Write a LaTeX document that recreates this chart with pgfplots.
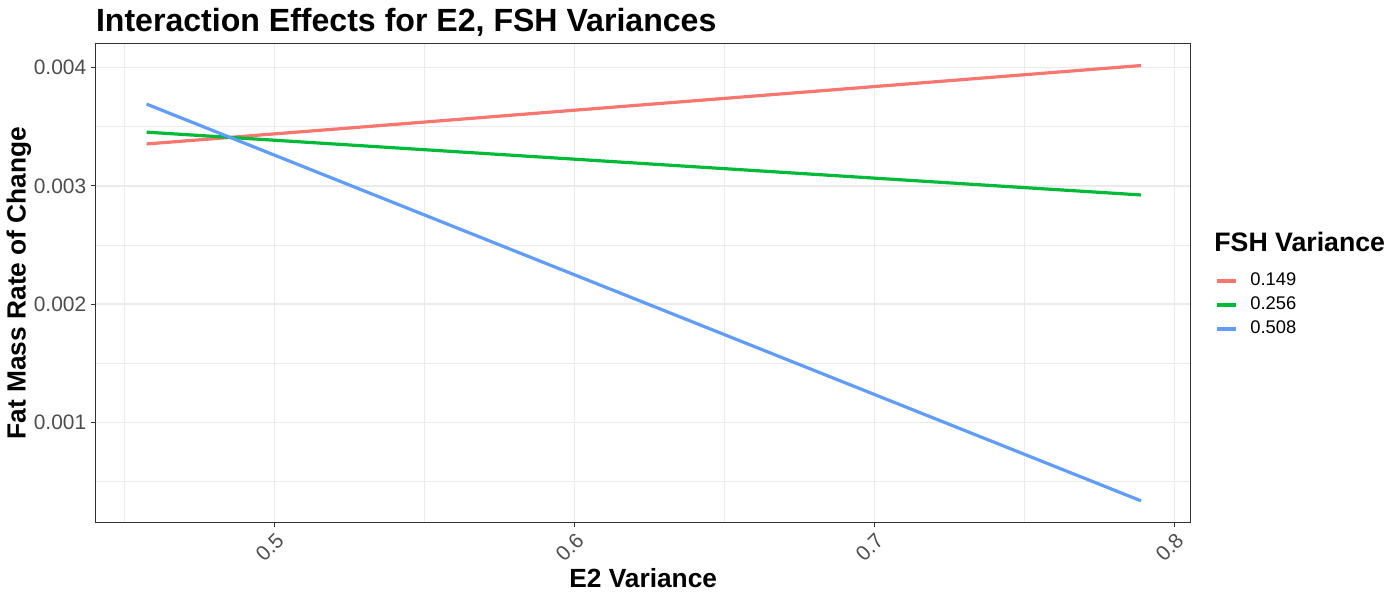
\documentclass[border=0pt]{standalone}
\usepackage{pgfplots}
\pgfplotsset{compat=1.18}
\usepackage{fontspec}
\setmainfont{Liberation Sans}
\definecolor{cred}{HTML}{F8766D}
\definecolor{cgreen}{HTML}{00BA38}
\definecolor{cblue}{HTML}{619CFF}
\definecolor{g20}{HTML}{333333}
\definecolor{g30}{HTML}{4D4D4D}
\definecolor{g92}{HTML}{EBEBEB}
\begin{document}
\begin{tikzpicture}
\path[use as bounding box] (0,0) rectangle (700bp,300bp);
\begin{axis}[
  name=ax,
  at={(47.8bp,39bp)}, anchor=south west,
  scale only axis, width=547.6bp, height=239bp,
  xmin=0.4403, xmax=0.8054, ymin=0.00016, ymax=0.0042,
  xtick={0.5,0.6,0.7,0.8}, xticklabels={0.5,0.6,0.7,0.8},
  ytick={0.001,0.002,0.003,0.004}, yticklabels={0.001,0.002,0.003,0.004},
  minor xtick={0.45,0.55,0.65,0.75},
  minor ytick={0.0005,0.0015,0.0025,0.0035},
  scaled y ticks=false, scaled x ticks=false,
  grid=both,
  major grid style={g92, line width=0.8bp},
  minor grid style={g92, line width=0.4bp},
  minor tick length=0pt,
  major tick length=2.5bp,
  tick align=outside,
  xtick pos=bottom, ytick pos=left,
  tick style={g20, line width=0.5bp},
  axis line style={g20, line width=0.5bp},
  tick label style={font=\fontsize{10.5}{12}\selectfont, text=g30},
  x tick label style={rotate=45, anchor=north east, inner sep=1.5bp},
  y tick label style={inner sep=2bp},
  xlabel={\textbf{E2 Variance}},
  label style={font=\fontsize{13.2}{15}\selectfont},
  xlabel style={at={(rel axis cs:0.5,0)}, anchor=center, yshift=-28bp},
  legend style={at={(rel axis cs:1.0219,0.454)}, anchor=west, draw=none, fill=none,
    font=\fontsize{9.2}{11}\selectfont, row sep=1.1bp, column sep=5bp, inner sep=0pt,
    nodes={inner sep=1.5bp}},
  legend cell align=left,
  legend image code/.code={\draw[#1] (0bp,0bp) -- (9.5bp,0bp);},
]
\addplot[cred, line width=1.6bp] coordinates {(0.4573,0.003355) (0.7888,0.004018)};
\addlegendentry{0.149}
\addplot[cgreen, line width=1.6bp] coordinates {(0.4573,0.003455) (0.7888,0.002924)};
\addlegendentry{0.256}
\addplot[cblue, line width=1.6bp] coordinates {(0.4573,0.003692) (0.7888,0.000339)};
\addlegendentry{0.508}
\end{axis}
\node[rotate=90, anchor=center, inner sep=0pt, font=\fontsize{13.2}{15}\selectfont\bfseries]
  at (9.5bp,158.5bp) {Fat Mass Rate of Change};
\node[anchor=base west, inner sep=0pt, font=\fontsize{16.1}{19}\selectfont\bfseries]
  at (47.8bp,284bp) {Interaction Effects for E2, FSH Variances};
\node[anchor=base west, inner sep=0pt, font=\fontsize{13.4}{15}\selectfont\bfseries]
  at (607bp,174bp) {FSH Variance};
\end{tikzpicture}
\end{document}
